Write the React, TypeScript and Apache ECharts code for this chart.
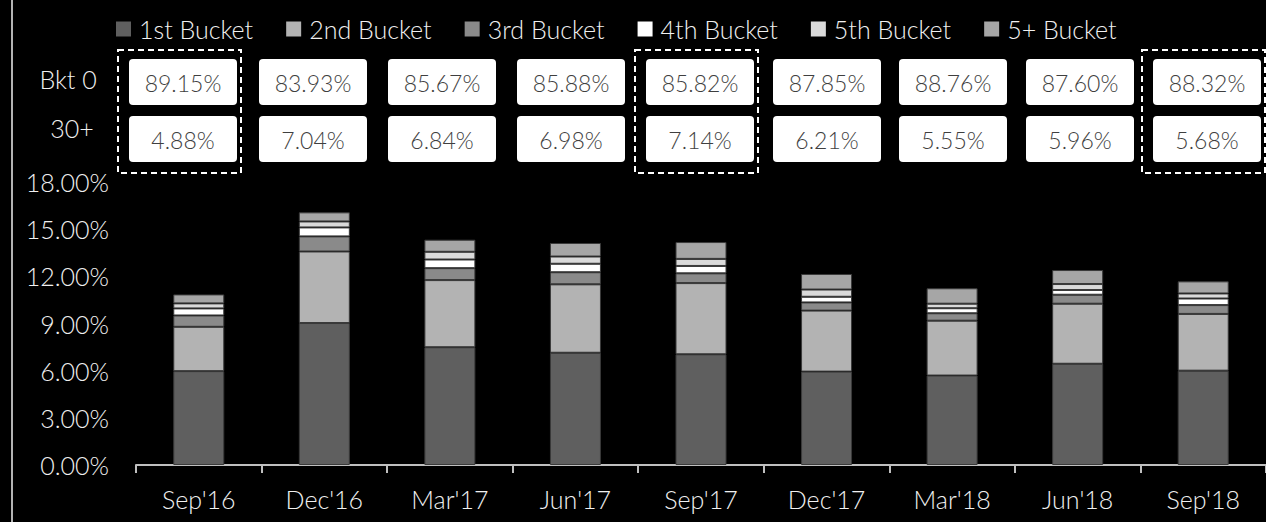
import React, { useEffect, useRef } from "react";
import * as echarts from "echarts";

const categories = ["Sep'16", "Dec'16", "Mar'17", "Jun'17", "Sep'17", "Dec'17", "Mar'18", "Jun'18", "Sep'18"];
const seriesNames = ["1st Bucket", "2nd Bucket", "3rd Bucket", "4th Bucket", "5th Bucket", "5+ Bucket"];
const bucket1 = [5.97, 9.03, 7.49, 7.14, 7.04, 5.94, 5.69, 6.44, 6.0];
const bucket2 = [2.82, 4.55, 4.27, 4.35, 4.53, 3.88, 3.49, 3.82, 3.61];
const bucket3 = [0.72, 0.96, 0.76, 0.77, 0.62, 0.52, 0.47, 0.57, 0.56];
const bucket4 = [0.45, 0.57, 0.55, 0.54, 0.47, 0.36, 0.32, 0.3, 0.42];
const bucket5 = [0.32, 0.38, 0.49, 0.46, 0.45, 0.46, 0.29, 0.38, 0.32];
const bucket5plus = [0.57, 0.58, 0.77, 0.86, 1.07, 0.99, 0.98, 0.89, 0.77];
const bkt0Labels = ["89.15%", "83.93%", "85.67%", "85.88%", "85.82%", "87.85%", "88.76%", "87.60%", "88.32%"];
const plus30Labels = ["4.88%", "7.04%", "6.84%", "6.98%", "7.14%", "6.21%", "5.55%", "5.96%", "5.68%"];
const highlighted = [0, 4, 8];
const rowLabels = ["Bkt 0", "30+"];

const seriesData = [bucket1, bucket2, bucket3, bucket4, bucket5, bucket5plus];
const colors = ["#5f5f5f", "#b3b3b3", "#8a8a8a", "#ffffff", "#dadada", "#a6a6a6"];

const FONT = "Lato, 'Open Sans', sans-serif";
const boxLefts = [129, 259, 388, 517, 646, 773, 899, 1026, 1153];

export default function App() {
  const ref = useRef<HTMLDivElement>(null);
  useEffect(() => {
    if (!ref.current) return;
    const chart = echarts.init(ref.current, null, { renderer: "svg" });
    const graphic: any[] = [
      { type: "line", shape: { x1: 12, y1: 0, x2: 12, y2: 522 }, style: { stroke: "#b3b3b3", lineWidth: 2 } },
      { type: "text", x: 68, y: 79, style: { text: rowLabels[0], fill: "#f0f0f0", font: `300 25px ${FONT}`, align: "center", verticalAlign: "middle" } },
      { type: "text", x: 72, y: 128, style: { text: rowLabels[1], fill: "#f0f0f0", font: `300 25px ${FONT}`, align: "center", verticalAlign: "middle" } },
    ];
    boxLefts.forEach((x, i) => {
      graphic.push({ type: "rect", shape: { x, y: 59, width: 108, height: 46, r: 4 }, style: { fill: "#ffffff" } });
      graphic.push({ type: "rect", shape: { x, y: 116, width: 108, height: 46, r: 4 }, style: { fill: "#ffffff" } });
      graphic.push({ type: "text", x: x + 54, y: 83, style: { text: bkt0Labels[i], fill: "#3f3f3f", font: `300 23px ${FONT}`, align: "center", verticalAlign: "middle" } });
      graphic.push({ type: "text", x: x + 54, y: 140, style: { text: plus30Labels[i], fill: "#3f3f3f", font: `300 23px ${FONT}`, align: "center", verticalAlign: "middle" } });
    });
    highlighted.forEach((i) => {
      graphic.push({
        type: "rect",
        shape: { x: boxLefts[i] - 11, y: 50, width: 123, height: 123 },
        style: { fill: "none", stroke: "#ffffff", lineWidth: 2, lineDash: [6, 4] },
      });
    });

    chart.setOption({
      animation: false,
      backgroundColor: "#000000",
      legend: {
        left: 116,
        top: 16,
        padding: 0,
        itemWidth: 15,
        itemHeight: 15,
        itemGap: 33,
        icon: "rect",
        data: seriesNames,
        itemStyle: { borderWidth: 0 },
        textStyle: { color: "#f0f0f0", fontSize: 25, lineHeight: 26, fontFamily: FONT, fontWeight: 300, padding: [0, 0, 0, 3] },
      },
      grid: { left: 136, right: -11, top: 182, bottom: 57, containLabel: false },
      xAxis: {
        type: "category",
        data: categories,
        axisLine: { lineStyle: { color: "#bfbfbf", width: 2 } },
        axisTick: { show: true, length: 8, lineStyle: { color: "#bfbfbf", width: 2 } },
        axisLabel: { color: "#f0f0f0", fontSize: 25, fontFamily: FONT, fontWeight: 300, margin: 21 },
      },
      yAxis: {
        type: "value",
        min: 0,
        max: 18,
        interval: 3,
        splitLine: { show: false },
        axisLine: { show: false },
        axisTick: { show: false },
        axisLabel: {
          color: "#f0f0f0",
          fontSize: 25,
          fontFamily: FONT,
          fontWeight: 300,
          margin: 27,
          formatter: (v: number) => v.toFixed(2) + "%",
        },
      },
      series: seriesNames.map((name, i) => ({
        name,
        type: "bar",
        stack: "total",
        barWidth: 51,
        data: seriesData[i],
        itemStyle: { color: colors[i], borderColor: "#3a3a3a", borderWidth: 1 },
      })),
      graphic,
    });
    return () => chart.dispose();
  }, []);
  return <div ref={ref} style={{ position: "fixed", left: 0, top: 0, width: 1266, height: 522, background: "#000" }} />;
}
